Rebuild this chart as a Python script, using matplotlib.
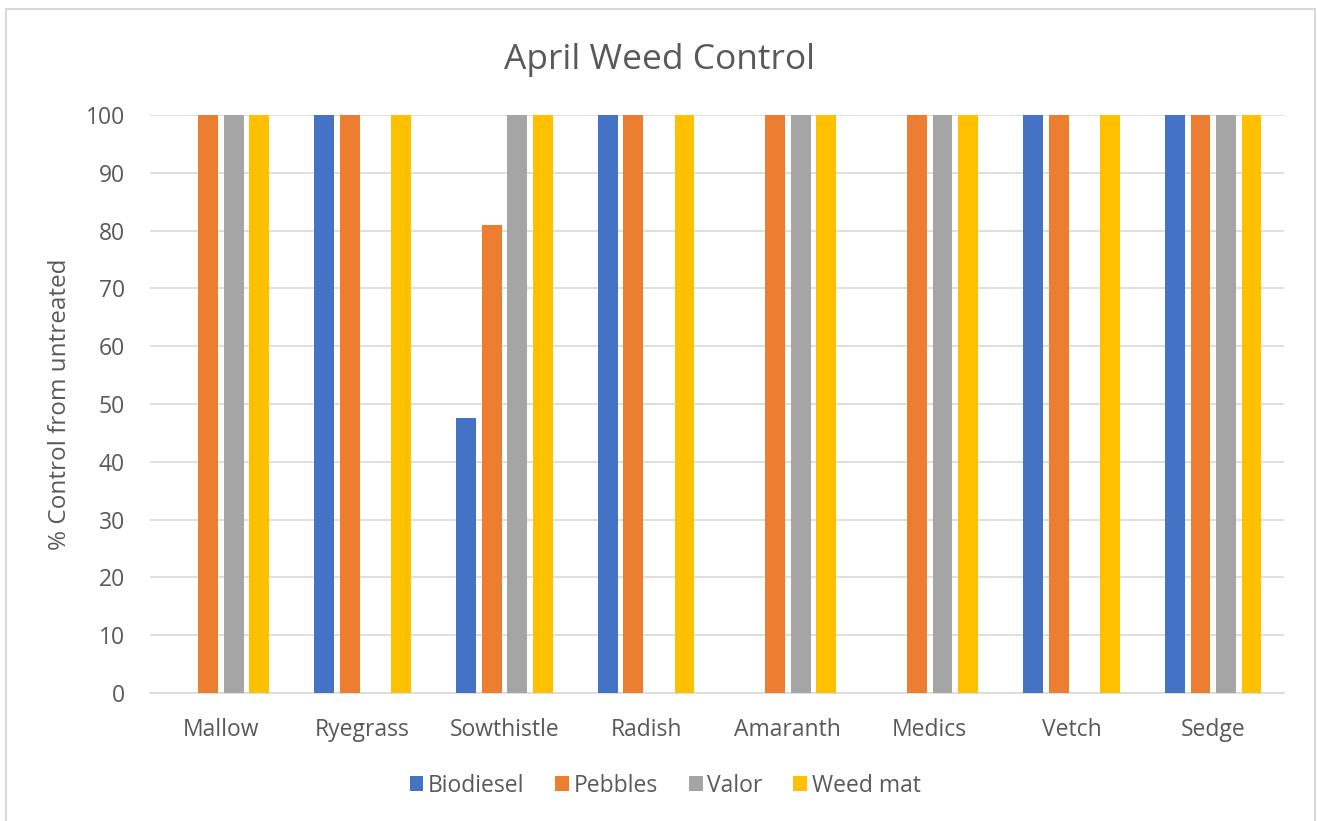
import numpy as np
import matplotlib.pyplot as plt
from matplotlib.patches import Rectangle

plt.rcParams['font.family'] = ['Open Sans', 'DejaVu Sans']

weeds = ["Mallow", "Ryegrass", "Sowthistle", "Radish", "Amaranth", "Medics", "Vetch", "Sedge"]
biodiesel = [0, 100, 47.5, 100, 0, 0, 100, 100]
pebbles = [100, 100, 81, 100, 100, 100, 100, 100]
valor = [100, 0, 100, 0, 100, 100, 0, 100]
weed_mat = [100, 100, 100, 100, 100, 100, 100, 100]

series = [("Biodiesel", biodiesel, "#4472C4"),
          ("Pebbles", pebbles, "#ED7D31"),
          ("Valor", valor, "#A5A5A5"),
          ("Weed mat", weed_mat, "#FFC000")]

text_col = "#595959"

fig = plt.figure(figsize=(13.17, 8.21), dpi=100)
ax = fig.add_axes([0.1139, 0.156, 0.975 - 0.1139, 0.704])

x = np.arange(len(weeds))
stride = 0.18
width = 0.14
for i, (name, vals, col) in enumerate(series):
    ax.bar(x + (i - 1.5) * stride, vals, width, color=col, label=name, zorder=3)

ax.set_xlim(-0.5, len(weeds) - 0.5)
ax.set_ylim(0, 100)
ax.set_yticks(np.arange(0, 101, 10))
ax.set_xticks(x)
ax.set_xticklabels(weeds)
ax.grid(axis='y', color="#D9D9D9", linewidth=1.2, zorder=0)
for s in ["top", "right", "left"]:
    ax.spines[s].set_visible(False)
ax.spines["bottom"].set_color("#D9D9D9")
ax.spines["bottom"].set_linewidth(1.2)
ax.tick_params(axis='both', length=0, labelsize=16.5, colors=text_col)
ax.tick_params(axis='x', pad=18)
ax.tick_params(axis='y', pad=18)

ax.set_ylabel("% Control from untreated", fontsize=17.5, color=text_col, labelpad=10)
fig.text(0.501, 0.927, "April Weed Control", ha='center', va='center', fontsize=25.5, color=text_col)

fig.legend(loc='center', bbox_to_anchor=(0.505, 0.043), ncol=4, frameon=False,
           fontsize=16.5, labelcolor=text_col, handlelength=0.6, handleheight=0.6,
           handletextpad=0.2, columnspacing=1.35)

fig.patches.append(Rectangle((6 / 1317, -0.01), 1309 / 1317, 1 - 9 / 821 + 0.01,
                             transform=fig.transFigure, fill=False,
                             edgecolor="#D9D9D9", linewidth=1.5))

fig.savefig("out.png", dpi=100)
